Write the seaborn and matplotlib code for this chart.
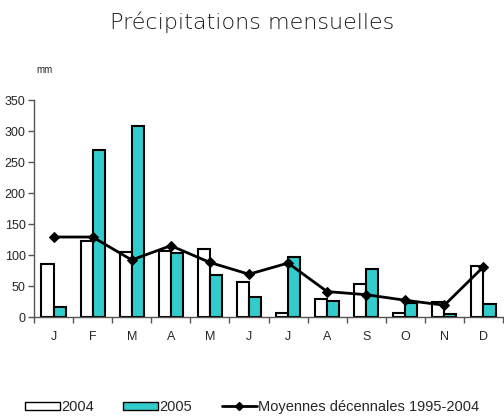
import numpy as np
import pandas as pd
import matplotlib
matplotlib.use("Agg")
import matplotlib.pyplot as plt
import seaborn as sns
from matplotlib.patches import Patch
from matplotlib.lines import Line2D

# ---------------------------- DATA ---------------------------------
MONTHS = ["Jan", "Fev", "Mar", "Avr", "Mai", "Jun",
          "Jul", "Aou", "Sep", "Oct", "Nov", "Dec"]
MONTH_LABELS = ["J", "F", "M", "A", "M", "J", "J", "A", "S", "O", "N", "D"]
RAIN_2004 = [86, 123, 105, 106, 109, 57, 7, 29, 54, 7, 24, 83]
RAIN_2005 = [16, 269, 308, 104, 68, 32, 96, 26, 78, 23, 5, 21]
MEAN_1995_2004 = [129, 129, 92, 115, 88, 69, 87, 41, 36, 27, 19, 81]

# ---------------------------- PLOT ---------------------------------
sns.set_style("white")
plt.rcParams["font.family"] = ["Liberation Sans", "DejaVu Sans"]

df = pd.DataFrame({
    "mois": MONTHS * 2,
    "pluie": RAIN_2004 + RAIN_2005,
    "annee": ["2004"] * 12 + ["2005"] * 12,
})

fig = plt.figure(figsize=(5.04, 4.19), dpi=100)
ax = fig.add_axes([34 / 504, 102 / 419, 469 / 504, 217 / 419])

sns.barplot(data=df, x="mois", y="pluie", hue="annee", order=MONTHS,
            palette={"2004": "white", "2005": "#33CCCC"}, saturation=1,
            edgecolor="black", linewidth=1.5, width=0.62, gap=0,
            legend=False, ax=ax)

sns.lineplot(x=np.arange(12), y=MEAN_1995_2004, color="black",
             linewidth=2, marker="D", markersize=5.5, markeredgecolor="black",
             ax=ax)

ax.set_xlim(-0.5, 11.5)
ax.set_ylim(0, 350)
ax.set_yticks(range(0, 351, 50))
ax.set_xticks(np.arange(12))
ax.set_xticklabels(MONTH_LABELS)
ax.set_xticks(np.arange(-0.5, 12, 1), minor=True)
ax.tick_params(axis="x", which="major", length=0, pad=10, labelsize=9)
ax.tick_params(axis="x", which="minor", bottom=True, length=4, width=1,
               direction="out", color="#555555")
ax.tick_params(axis="y", left=True, length=4, width=1, direction="out",
               labelsize=9, pad=2, color="#555555")
ax.set_xlabel("")
ax.set_ylabel("")
sns.despine(ax=ax)
for side in ["left", "bottom"]:
    ax.spines[side].set_color("#555555")
    ax.spines[side].set_linewidth(1)

fig.text(36 / 504, 1 - 70 / 419, "mm", fontsize=7, va="center", ha="left")
fig.text(0.5, 1 - 22 / 419, "Précipitations mensuelles", fontsize=16,
         ha="center", va="center", color="#1a1a1a",
         family=["DejaVu Sans"], fontweight="light")

handles = [
    Patch(facecolor="white", edgecolor="black", linewidth=1),
    Patch(facecolor="#33CCCC", edgecolor="black", linewidth=1),
    Line2D([0], [0], color="black", linewidth=2, marker="D", markersize=4),
]
fig.legend(handles, ["2004", "2005", "Moyennes décennales 1995-2004"],
           loc="center", bbox_to_anchor=(0.5, 1 - 407 / 419), ncol=3,
           frameon=False, fontsize=10.5, handlelength=2.4, handleheight=0.5,
           handletextpad=0.1, columnspacing=2.0)

fig.savefig("out.png", dpi=100)
